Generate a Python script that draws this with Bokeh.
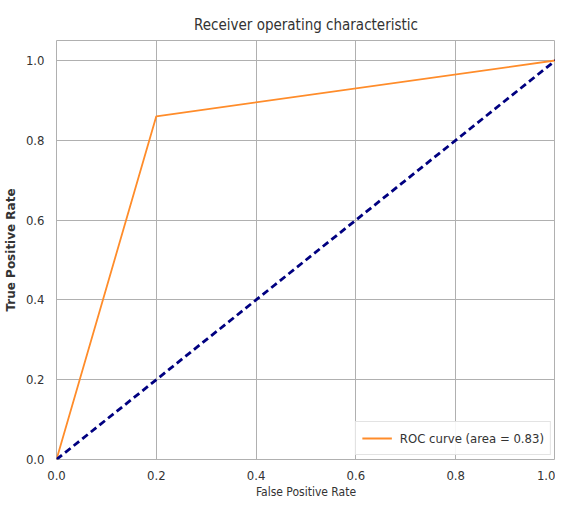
from bokeh.plotting import figure
from bokeh.models import Range1d, FixedTicker, Legend, LegendItem
from bokeh.embed import file_html
from bokeh.resources import INLINE

fpr = [0.0, 0.2, 1.0]
tpr = [0.0, 0.86, 1.0]
diag_x = [0.0, 1.0]
diag_y = [0.0, 1.0]
roc_auc = 0.83
ticks = [0.0, 0.2, 0.4, 0.6, 0.8, 1.0]
tick_labels = {t: f"{t:.1f}" for t in ticks}

p = figure(width=555, height=501, output_backend="svg", toolbar_location=None,
           x_range=Range1d(0.0, 1.0), y_range=Range1d(0.0, 1.05),
           min_border_left=50, min_border_right=0, min_border_top=40, min_border_bottom=30)

p.title.text = "Receiver operating characteristic"
p.title.align = "center"
p.title.text_font = "DejaVu Sans Condensed"
p.title.text_font_style = "normal"
p.title.text_font_size = "15px"
p.title.text_color = "#333333"
p.title.offset = 0
p.title.standoff = 13

p.outline_line_color = "#b0b0b0"
p.outline_line_width = 1
p.background_fill_color = "white"
p.border_fill_color = "white"

for ax in (p.xaxis, p.yaxis):
    ax.ticker = FixedTicker(ticks=ticks)
    ax.major_label_overrides = tick_labels
    ax.axis_line_color = None
    ax.major_tick_line_color = None
    ax.minor_tick_line_color = None
    ax.major_label_text_font = "DejaVu Sans Condensed"
    ax.major_label_text_font_size = "13px"
    ax.major_label_text_color = "#333333"
    ax.axis_label_text_font_style = "normal"
    ax.axis_label_text_color = "#333333"

p.xaxis.axis_label = "False Positive Rate"
p.xaxis.axis_label_text_font = "DejaVu Sans Condensed"
p.xaxis.axis_label_text_font_size = "12px"
p.xaxis.major_label_standoff = 5
p.xaxis.axis_label_standoff = 2

p.yaxis.axis_label = "True Positive Rate"
p.yaxis.axis_label_text_font = "DejaVu Sans"
p.yaxis.axis_label_text_font_style = "bold"
p.yaxis.axis_label_text_font_size = "12px"
p.yaxis.major_label_standoff = 6
p.yaxis.axis_label_standoff = 5

p.xgrid.grid_line_color = "#b0b0b0"
p.ygrid.grid_line_color = "#b0b0b0"
p.xgrid.grid_line_width = 1
p.ygrid.grid_line_width = 1

roc = p.line(fpr, tpr, line_color="#ff8c2a", line_width=1.8)
p.line(diag_x, diag_y, line_color="navy", line_width=2.8, line_dash="7 4")

legend = Legend(items=[LegendItem(label=f"ROC curve (area = {roc_auc:.2f})", renderers=[roc])],
                location="bottom_right")
legend.label_text_font = "DejaVu Sans Condensed"
legend.label_text_font_size = "13px"
legend.label_text_color = "#333333"
legend.border_line_color = "#c8c8c8"
legend.border_line_width = 1
legend.background_fill_alpha = 0.9
legend.margin = 4
legend.padding = 6
legend.glyph_width = 30
legend.label_standoff = 8
legend.spacing = 0
p.add_layout(legend)

open("out.html", "w").write(file_html(p, INLINE))
